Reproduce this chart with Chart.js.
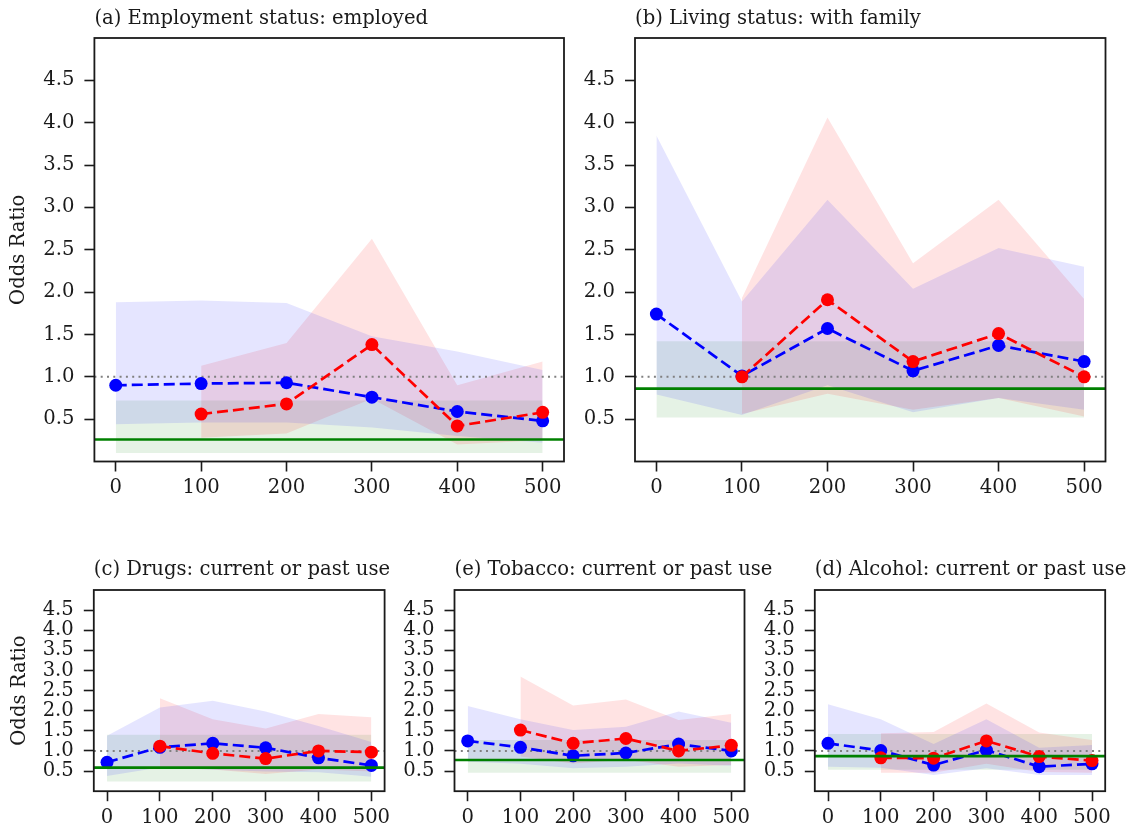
<!DOCTYPE html>
<html>
<head>
<meta charset="utf-8">
<title>Odds ratio panels</title>
<script src="https://cdn.jsdelivr.net/npm/chart.js@4.4.1/dist/chart.umd.min.js"></script>
<style>
  body { margin: 0; background: #fff; }
  #fig { position: relative; width: 1133px; height: 836px; overflow: hidden; }
  #fig canvas { position: absolute; }
</style>
</head>
<body>
<div id="fig">
  <canvas id="cA" width="580" height="515" style="left:0;top:0"></canvas>
  <canvas id="cB" width="553" height="515" style="left:580px;top:0"></canvas>
  <canvas id="cC" width="400" height="296" style="left:0;top:540px"></canvas>
  <canvas id="cE" width="380" height="296" style="left:400px;top:540px"></canvas>
  <canvas id="cD" width="373" height="296" style="left:760px;top:540px"></canvas>
</div>
<script>
/************ DATA ************/
const xAll = [0, 100, 200, 300, 400, 500];
const xRed = [100, 200, 300, 400, 500];
const xTicks = [0, 100, 200, 300, 400, 500];
const yTicks = [0.5, 1.0, 1.5, 2.0, 2.5, 3.0, 3.5, 4.0, 4.5];
const xMin = -25, xMax = 525;
const yMin = 0, yMax = 5;
const refLine = 1.0;
const yLabel = "Odds Ratio";

/* (a) employment */
const empTitle = "(a) Employment status: employed";
const empBlue   = [0.90, 0.92, 0.93, 0.76, 0.59, 0.48];
const empBlueLo = [0.44, 0.46, 0.46, 0.40, 0.30, 0.22];
const empBlueHi = [1.88, 1.90, 1.87, 1.48, 1.30, 1.08];
const empRed    = [0.56, 0.68, 1.38, 0.42, 0.58];
const empRedLo  = [0.28, 0.33, 0.74, 0.20, 0.25];
const empRedHi  = [1.13, 1.40, 2.63, 0.90, 1.18];
const empGreen  = [0.26, 0.10, 0.72];   // line, band low, band high

/* (b) living status */
const famTitle = "(b) Living status: with family";
const famBlue   = [1.74, 1.01, 1.57, 1.07, 1.37, 1.18];
const famBlueLo = [0.79, 0.55, 0.90, 0.58, 0.75, 0.61];
const famBlueHi = [3.85, 1.89, 3.09, 2.04, 2.52, 2.30];
const famRed    = [1.00, 1.91, 1.18, 1.51, 1.00];
const famRedLo  = [0.56, 0.80, 0.61, 0.75, 0.53];
const famRedHi  = [1.93, 4.06, 2.34, 3.09, 1.92];
const famGreen  = [0.86, 0.52, 1.42];

/* (c) drugs */
const drugTitle = "(c) Drugs: current or past use";
const drugBlue   = [0.72, 1.09, 1.19, 1.08, 0.83, 0.64];
const drugBlueLo = [0.38, 0.59, 0.53, 0.49, 0.47, 0.36];
const drugBlueHi = [1.38, 2.08, 2.25, 1.98, 1.62, 1.22];
const drugRed    = [1.12, 0.94, 0.81, 1.00, 0.97];
const drugRedLo  = [0.59, 0.54, 0.43, 0.54, 0.49];
const drugRedHi  = [2.31, 1.79, 1.56, 1.92, 1.84];
const drugGreen  = [0.585, 0.24, 1.40];

/* (e) tobacco */
const tobTitle = "(e) Tobacco: current or past use";
const tobBlue   = [1.25, 1.09, 0.88, 0.95, 1.17, 1.00];
const tobBlueLo = [0.73, 0.68, 0.57, 0.61, 0.69, 0.63];
const tobBlueHi = [2.12, 1.79, 1.52, 1.60, 1.98, 1.70];
const tobRed    = [1.52, 1.19, 1.31, 1.00, 1.14];
const tobRedLo  = [0.86, 0.69, 0.78, 0.61, 0.65];
const tobRedHi  = [2.85, 2.13, 2.28, 1.77, 1.92];
const tobGreen  = [0.775, 0.46, 1.27];

/* (d) alcohol */
const alcTitle = "(d) Alcohol: current or past use";
const alcBlue   = [1.19, 1.01, 0.65, 1.02, 0.61, 0.68];
const alcBlueLo = [0.61, 0.58, 0.40, 0.57, 0.40, 0.40];
const alcBlueHi = [2.16, 1.79, 1.17, 1.79, 1.08, 1.15];
const alcRed    = [0.83, 0.82, 1.25, 0.86, 0.76];
const alcRedLo  = [0.46, 0.46, 0.68, 0.48, 0.46];
const alcRedHi  = [1.44, 1.47, 2.18, 1.46, 1.27];
const alcGreen  = [0.87, 0.53, 1.42];

/************ STYLE ************/
const FONT = "DejaVu Serif";
const FONT_SIZE = 19.6;
const INK = "#1a1a1a";
const BLUE = "#0000ff";
const RED = "#ff0000";
const GREEN = "#008000";

/************ LAYOUT (chart area inside each canvas) ************/
const panels = [
  { id: "cA", title: empTitle, ylabel: true,  L: 94.4, T: 38, R: 564,   B: 461.5, titleY: 24, ylabelX: 19,
    blue: empBlue, blueLo: empBlueLo, blueHi: empBlueHi, red: empRed, redLo: empRedLo, redHi: empRedHi, green: empGreen },
  { id: "cB", title: famTitle, ylabel: false, L: 55,   T: 38, R: 525.5, B: 461.5, titleY: 24,
    blue: famBlue, blueLo: famBlueLo, blueHi: famBlueHi, red: famRed, redLo: famRedLo, redHi: famRedHi, green: famGreen },
  { id: "cC", title: drugTitle, ylabel: true, L: 93.8, T: 50, R: 384.6, B: 251.2, titleY: 35, ylabelX: 20,
    blue: drugBlue, blueLo: drugBlueLo, blueHi: drugBlueHi, red: drugRed, redLo: drugRedLo, redHi: drugRedHi, green: drugGreen },
  { id: "cE", title: tobTitle, ylabel: false, L: 54.5, T: 50, R: 344.5, B: 251.2, titleY: 35,
    blue: tobBlue, blueLo: tobBlueLo, blueHi: tobBlueHi, red: tobRed, redLo: tobRedLo, redHi: tobRedHi, green: tobGreen },
  { id: "cD", title: alcTitle, ylabel: false, L: 54.8, T: 50, R: 345.2, B: 251.2, titleY: 35,
    blue: alcBlue, blueLo: alcBlueLo, blueHi: alcBlueHi, red: alcRed, redLo: alcRedLo, redHi: alcRedHi, green: alcGreen }
];

/************ PLUGIN: frame, title, y label ************/
const panelText = {
  id: "panelText",
  afterDraw(chart, args, opts) {
    const ctx = chart.ctx;
    const a = chart.chartArea;
    ctx.save();
    ctx.strokeStyle = INK;
    ctx.lineWidth = 1.8;
    ctx.strokeRect(a.left, a.top, a.right - a.left, a.bottom - a.top);

    ctx.fillStyle = INK;
    ctx.font = `${FONT_SIZE}px '${FONT}'`;
    ctx.textAlign = "left";
    ctx.textBaseline = "alphabetic";
    ctx.fillText(opts.title, a.left, opts.titleY);

    if (opts.ylabel) {
      ctx.translate(opts.ylabelX, (a.top + a.bottom) / 2);
      ctx.rotate(-Math.PI / 2);
      ctx.textAlign = "center";
      ctx.textBaseline = "middle";
      ctx.fillText(yLabel, 0, 0);
    }
    ctx.restore();
  }
};

/************ HELPERS ************/
function pts(xs, ys) {
  return xs.map((x, i) => ({ x: x, y: ys[i] }));
}

function seriesLine(data, color, order) {
  return {
    data: data, borderColor: color, borderWidth: 2.7, borderDash: [11, 5],
    pointRadius: 6.5, pointHoverRadius: 6.5, pointBackgroundColor: color, pointBorderWidth: 0,
    fill: false, order: order
  };
}

function bandEdge(data, fillColor) {
  return {
    data: data, borderColor: "rgba(0,0,0,0)", borderWidth: 0, pointRadius: 0,
    fill: fillColor ? "-1" : false, backgroundColor: fillColor || "rgba(0,0,0,0)", order: 5
  };
}

/************ CHARTS ************/
panels.forEach(p => {
  const canvas = document.getElementById(p.id);
  const W = canvas.width, H = canvas.height;
  const g = p.green;

  const datasets = [
    { data: [{ x: xMin, y: g[0] }, { x: xMax, y: g[0] }], borderColor: GREEN, borderWidth: 2.7,
      pointRadius: 0, fill: false, order: 0 },
    seriesLine(pts(xRed, p.red), RED, 1),
    seriesLine(pts(xAll, p.blue), BLUE, 2),
    { data: [{ x: xMin, y: refLine }, { x: xMax, y: refLine }], borderColor: "#808080", borderWidth: 2,
      borderDash: [2, 4.3], pointRadius: 0, fill: false, order: 3 },
    bandEdge(pts(xAll, p.blueLo)),
    bandEdge(pts(xAll, p.blueHi), "rgba(0,0,255,0.1)"),
    bandEdge(pts(xRed, p.redLo)),
    bandEdge(pts(xRed, p.redHi), "rgba(255,0,0,0.11)"),
    bandEdge([{ x: xTicks[0], y: g[1] }, { x: xTicks[xTicks.length - 1], y: g[1] }]),
    bandEdge([{ x: xTicks[0], y: g[2] }, { x: xTicks[xTicks.length - 1], y: g[2] }], "rgba(0,128,0,0.1)")
  ];

  const tickFont = { family: FONT, size: FONT_SIZE };

  new Chart(canvas, {
    type: "line",
    data: { datasets: datasets },
    options: {
      responsive: false,
      animation: false,
      devicePixelRatio: 1,
      layout: { padding: { left: 0, top: p.T, right: W - p.R, bottom: 0 } },
      plugins: {
        legend: { display: false },
        tooltip: { enabled: false },
        filler: { drawTime: "beforeDatasetsDraw" },
        panelText: { title: p.title, titleY: p.titleY, ylabel: p.ylabel, ylabelX: p.ylabelX }
      },
      scales: {
        x: {
          type: "linear", min: xMin, max: xMax,
          afterBuildTicks: s => { s.ticks = xTicks.map(v => ({ value: v })); },
          afterFit: s => { s.height = H - p.B; },
          grid: { drawOnChartArea: false, drawTicks: true, tickLength: 10, tickWidth: 1.6, tickColor: INK },
          border: { display: false },
          ticks: { font: tickFont, color: INK, padding: 5, maxRotation: 0, autoSkip: false }
        },
        y: {
          type: "linear", min: yMin, max: yMax,
          afterBuildTicks: s => { s.ticks = yTicks.map(v => ({ value: v })); },
          afterFit: s => { s.width = p.L; },
          grid: { drawOnChartArea: false, drawTicks: true, tickLength: 10, tickWidth: 1.6, tickColor: INK },
          border: { display: false },
          ticks: { font: tickFont, color: INK, padding: 10, autoSkip: false,
                   callback: v => Number(v).toFixed(1) }
        }
      }
    },
    plugins: [panelText]
  });
});
</script>
</body>
</html>
